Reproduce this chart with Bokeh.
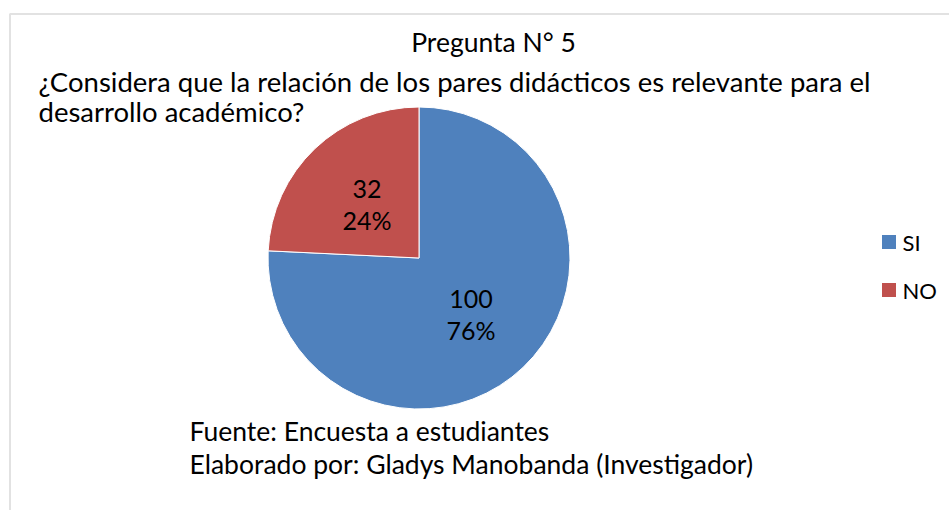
import math
from bokeh.plotting import figure
from bokeh.models import ColumnDataSource, BoxAnnotation, Label
from bokeh.core.properties import value
from bokeh.embed import file_html
from bokeh.resources import INLINE

# ---- data ----
categories = ["SI", "NO"]
counts = [100, 32]
percent_labels = ["76%", "24%"]
colors = ["#4F81BD", "#C0504D"]

title_lines = [
    "Pregunta N° 5",
    "¿Considera que la relación de los pares didácticos es relevante para el",
    "desarrollo académico?",
]
source_lines = [
    "Fuente: Encuesta a  estudiantes",
    "Elaborado por: Gladys Manobanda (Investigador)",
]

W, H = 949, 510
FONT = "Lato"

def sx(x):  # screen x -> data
    return x

def sy(y):  # screen y -> data
    return H - y

p = figure(width=W, height=H, x_range=(0, W), y_range=(0, H),
           output_backend="svg", toolbar_location=None,
           min_border=0, min_border_left=0, min_border_right=0,
           min_border_top=0, min_border_bottom=0)
p.axis.visible = False
p.grid.visible = False
p.outline_line_color = None
p.background_fill_color = "white"
p.border_fill_color = "white"

# border of chart area
p.add_layout(BoxAnnotation(left=sx(9.5), top=sy(13.5), right=sx(3000), bottom=sy(3000),
                           fill_alpha=0, line_color="#A0A0A0", line_width=2))

# ---- pie ----
total = sum(counts)
fracs = [c / total for c in counts]
cx, cy, r = sx(418.5), sy(257.5), 151
starts, ends, lx, ly = [], [], [], []
cum = 0.0
for f in fracs:
    a0 = math.pi / 2 - 2 * math.pi * (cum + f)
    a1 = math.pi / 2 - 2 * math.pi * cum
    starts.append(a0)
    ends.append(a1)
    mid = (a0 + a1) / 2
    lx.append(cx + 0.5 * r * math.cos(mid))
    ly.append(cy + 0.5 * r * math.sin(mid))
    cum += f

src = ColumnDataSource(dict(cat=categories, count=counts, start=starts, end=ends,
                            color=colors, lx=lx, ly=ly,
                            l1=[str(c) for c in counts], l2=percent_labels))
p.wedge(x=cx, y=cy, radius=r, radius_units="screen", start_angle="start", end_angle="end",
        fill_color="color", line_color="white", line_width=1, source=src)

p.text(x="lx", y="ly", text="l1", source=src, text_font=value(FONT), text_font_size="25px",
       text_align="center", text_baseline="alphabetic", y_offset=-14, text_color="#000000")
p.text(x="lx", y="ly", text="l2", source=src, text_font=value(FONT), text_font_size="25px",
       text_align="center", text_baseline="alphabetic", y_offset=17, text_color="#000000")

# ---- titles ----
p.add_layout(Label(x=sx(493), y=sy(57), text=title_lines[0], text_align="center",
                   text_font=FONT, text_font_size="26.5px", text_color="black"))
p.add_layout(Label(x=sx(38), y=sy(97), text=title_lines[1], text_align="left",
                   text_font=FONT, text_font_size="27.5px", text_color="black"))
p.add_layout(Label(x=sx(38), y=sy(127), text=title_lines[2], text_align="left",
                   text_font=FONT, text_font_size="27.5px", text_color="black"))

# ---- source lines ----
p.add_layout(Label(x=sx(189), y=sy(446), text=source_lines[0], text_align="left",
                   text_font=FONT, text_font_size="26.5px", text_color="black"))
p.add_layout(Label(x=sx(189), y=sy(479), text=source_lines[1], text_align="left",
                   text_font=FONT, text_font_size="26.5px", text_color="black"))

# ---- legend ----
leg_y = [sy(241.5), sy(289.5)]
p.rect(x=sx(888.5), y=leg_y, width=14, height=14, width_units="screen", height_units="screen",
       fill_color=colors, line_color=None)
p.text(x=sx(902), y=leg_y, text=categories, text_font=value(FONT), text_font_size="22px",
       text_baseline="middle", text_align="left", text_color="black")

open("out.html", "w").write(file_html(p, INLINE))
